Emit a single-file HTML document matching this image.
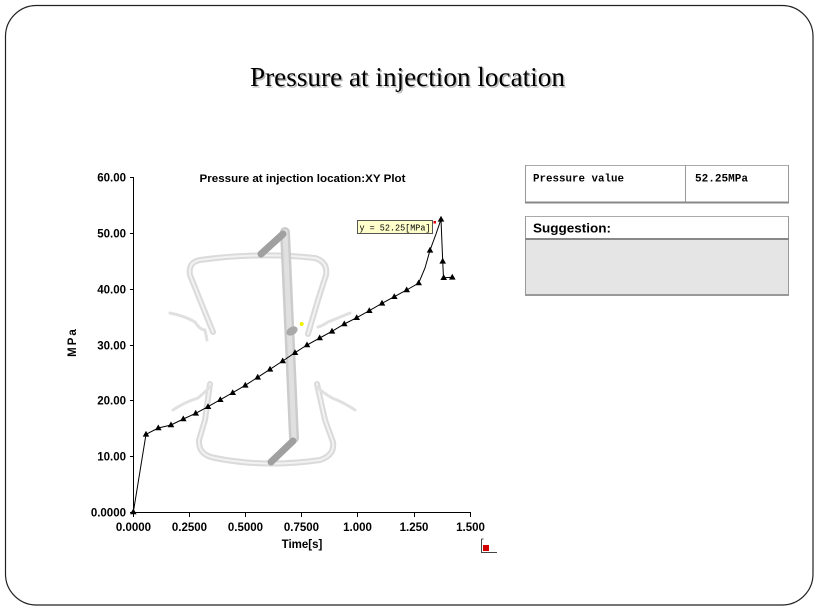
<!DOCTYPE html>
<html><head><meta charset="utf-8"><style>
html,body{margin:0;padding:0;background:#fff;}
svg{display:block;}
</style></head><body>
<svg width="817" height="611" viewBox="0 0 817 611" xmlns="http://www.w3.org/2000/svg">
<rect x="0" y="0" width="817" height="611" fill="#fff"/>
<rect x="5.5" y="5.5" width="807.5" height="599.5" rx="31" ry="31" fill="#fff" stroke="#222" stroke-width="1.2"/>

<!-- Title -->
<text x="251.5" y="87.5" font-family="Liberation Serif, serif" font-size="27" fill="#b8b8b8" textLength="315" lengthAdjust="spacingAndGlyphs">Pressure at injection location</text>
<text x="250" y="86" font-family="Liberation Serif, serif" font-size="27" fill="#000" textLength="315" lengthAdjust="spacingAndGlyphs">Pressure at injection location</text>

<!-- Background model (light gray) -->
<g fill="none" stroke-linecap="round" stroke-linejoin="round">
  <g stroke="#dadada" stroke-width="6">
    <path d="M213,332 L200,300 L190,275 Q188,262 200,260 Q258,252 315,258 Q328,262 326,275 L318,300 L308,334"/>
    <path d="M210,384 L205,420 L199,440 Q198,455 215,458 Q265,468 320,460 Q335,455 333,442 L325,420 L317,384"/>
  </g>
  <g stroke="#f2f2f2" stroke-width="2">
    <path d="M213,332 L200,300 L190,275 Q188,262 200,260 Q258,252 315,258 Q328,262 326,275 L318,300 L308,334"/>
    <path d="M210,384 L205,420 L199,440 Q198,455 215,458 Q265,468 320,460 Q335,455 333,442 L325,420 L317,384"/>
  </g>
  <g stroke="#e0e0e0" stroke-width="3">
    <path d="M170,313 Q185,316 195,322 Q200,330 205,330 L207,340"/>
    <path d="M350,313 Q338,318 328,322 Q322,326 318,327"/>
    <path d="M173,410 Q185,402 198,398 Q205,392 210,387"/>
    <path d="M355,410 Q343,402 332,398 Q322,392 317,387"/>
  </g>
  <path d="M285,232 L294,438" stroke="#cccccc" stroke-width="10"/>
  <path d="M285,232 L294,438" stroke="#e0e0e0" stroke-width="5"/>
  <path d="M261,254 L283,234" stroke="#a0a0a0" stroke-width="7"/>
  <path d="M271,462 L293,441" stroke="#a0a0a0" stroke-width="7"/>
</g>
<ellipse cx="292" cy="331" rx="6" ry="4" fill="#a8a8a8" transform="rotate(-30 292 331)"/>
<circle cx="301.7" cy="324" r="2" fill="#f0f000"/>

<!-- Axes -->
<g stroke="#000" stroke-width="1" fill="none">
  <path d="M133.5,177 L133.5,512.5 L471,512.5"/>
  <path d="M130,177.5 H133.5 M130,233.5 H133.5 M130,289.5 H133.5 M130,345.5 H133.5 M130,400.5 H133.5 M130,456.5 H133.5 M130,512.5 H133.5"/>
  <path d="M133.5,512.5 V517 M189.5,512.5 V517 M245.5,512.5 V517 M301.5,512.5 V517 M357.5,512.5 V517 M414.5,512.5 V517 M470.5,512.5 V517"/>
</g>
<g font-family="Liberation Sans, Arial, sans-serif" font-size="11.5" font-weight="bold" fill="#000" text-anchor="end">
  <text x="126" y="181.5">60.00</text>
  <text x="126" y="237.5">50.00</text>
  <text x="126" y="293.5">40.00</text>
  <text x="126" y="349.5">30.00</text>
  <text x="126" y="404.5">20.00</text>
  <text x="126" y="460.5">10.00</text>
  <text x="126" y="516.5">0.0000</text>
</g>
<g font-family="Liberation Sans, Arial, sans-serif" font-size="11.5" font-weight="bold" fill="#000" text-anchor="middle">
  <text x="133.5" y="531">0.0000</text>
  <text x="189.5" y="531">0.2500</text>
  <text x="245.5" y="531">0.5000</text>
  <text x="301.5" y="531">0.7500</text>
  <text x="357.5" y="531">1.000</text>
  <text x="414" y="531">1.250</text>
  <text x="470.5" y="531">1.500</text>
  <text x="302" y="548">Time[s]</text>
  <text x="0" y="0" transform="translate(76,342) rotate(-90)" letter-spacing="2">MPa</text>
</g>
<text x="302.5" y="182" font-family="Liberation Sans, Arial, sans-serif" font-size="11" font-weight="bold" fill="#000" text-anchor="middle" textLength="206" lengthAdjust="spacingAndGlyphs">Pressure at injection location:XY Plot</text>

<!-- Series -->
<polyline fill="none" stroke="#000" stroke-width="1" points="133.3,512.3 146,434.3 158.3,428 171,425 183.3,419 195.7,413.3 208,406.7 220.3,399.7 232.7,392.7 245.3,385.3 257.7,377.3 270,369.3 282.7,361 295,352.7 307,345 319.7,338 332,331.3 344.3,324 356.7,317.7 369.3,310.7 382,303.3 394.3,296.7 406.7,290 418.7,283 425,268 430,250.3 436,234 441,219.3 442.7,261.3 443.5,277.7 452.3,277.3"/>
<g fill="#000">
<defs><path id="tri" d="M0,-3.5 L3.3,2.3 L-3.3,2.3 Z"/></defs>
<use href="#tri" x="133.3" y="512"/>
<use href="#tri" x="146" y="434.3"/>
<use href="#tri" x="158.3" y="428"/>
<use href="#tri" x="171" y="425"/>
<use href="#tri" x="183.3" y="419"/>
<use href="#tri" x="195.7" y="413.3"/>
<use href="#tri" x="208" y="406.7"/>
<use href="#tri" x="220.3" y="399.7"/>
<use href="#tri" x="232.7" y="392.7"/>
<use href="#tri" x="245.3" y="385.3"/>
<use href="#tri" x="257.7" y="377.3"/>
<use href="#tri" x="270" y="369.3"/>
<use href="#tri" x="282.7" y="361"/>
<use href="#tri" x="295" y="352.7"/>
<use href="#tri" x="307" y="345"/>
<use href="#tri" x="319.7" y="338"/>
<use href="#tri" x="332" y="331.3"/>
<use href="#tri" x="344.3" y="324"/>
<use href="#tri" x="356.7" y="317.7"/>
<use href="#tri" x="369.3" y="310.7"/>
<use href="#tri" x="382" y="303.3"/>
<use href="#tri" x="394.3" y="296.7"/>
<use href="#tri" x="406.7" y="290"/>
<use href="#tri" x="418.7" y="283"/>
<use href="#tri" x="430" y="250.3"/>
<use href="#tri" x="441" y="219.3"/>
<use href="#tri" x="442.7" y="261.3"/>
<use href="#tri" x="443.7" y="277.7"/>
<use href="#tri" x="452.3" y="277.3"/>
</g>

<!-- Value label -->
<rect x="357.5" y="220.5" width="75" height="13" fill="#ffffcc" stroke="#555" stroke-width="1"/>
<text x="359.5" y="230.5" font-family="Liberation Mono, monospace" font-size="9" fill="#000" textLength="71" lengthAdjust="spacingAndGlyphs">y = 52.25[MPa]</text>
<rect x="433.5" y="221" width="2.5" height="2.5" fill="#e00000"/>

<!-- small triad icon -->
<g>
  <path d="M481.5,539 V552.5 H497" stroke="#444" stroke-width="1" fill="none"/>
  <rect x="483" y="545" width="6" height="6" fill="#d40000"/>
  <path d="M481.5,539 h2" stroke="#444" stroke-width="1"/>
</g>

<!-- Right tables -->
<g>
  <rect x="525" y="165" width="264" height="38" fill="#fff"/>
  <path d="M525,165.5 H789" stroke="#aaa" stroke-width="1"/>
  <path d="M525.5,165 V203 M788.5,165 V203 M685.5,165 V203" stroke="#999" stroke-width="1"/>
  <path d="M525,202.5 H789" stroke="#888" stroke-width="2"/>
  <text x="533" y="181.5" font-family="Liberation Mono, monospace" font-size="11" font-weight="bold" fill="#000" textLength="91" lengthAdjust="spacingAndGlyphs">Pressure value</text>
  <text x="695" y="181.5" font-family="Liberation Mono, monospace" font-size="11" font-weight="bold" fill="#000" textLength="53" lengthAdjust="spacingAndGlyphs">52.25MPa</text>

  <rect x="525" y="216" width="264" height="23" fill="#fff"/>
  <rect x="525" y="239" width="264" height="56" fill="#e6e5e5"/>
  <path d="M525,216.5 H789" stroke="#aaa" stroke-width="1"/>
  <path d="M525.5,216 V295 M788.5,216 V295" stroke="#999" stroke-width="1"/>
  <path d="M525,239 H789" stroke="#888" stroke-width="2"/>
  <path d="M525,295 H789" stroke="#999" stroke-width="2"/>
  <text x="533" y="232.5" font-family="Liberation Sans, Arial, sans-serif" font-size="13" font-weight="bold" fill="#000" textLength="78" lengthAdjust="spacingAndGlyphs">Suggestion:</text>
</g>
</svg>
</body></html>
